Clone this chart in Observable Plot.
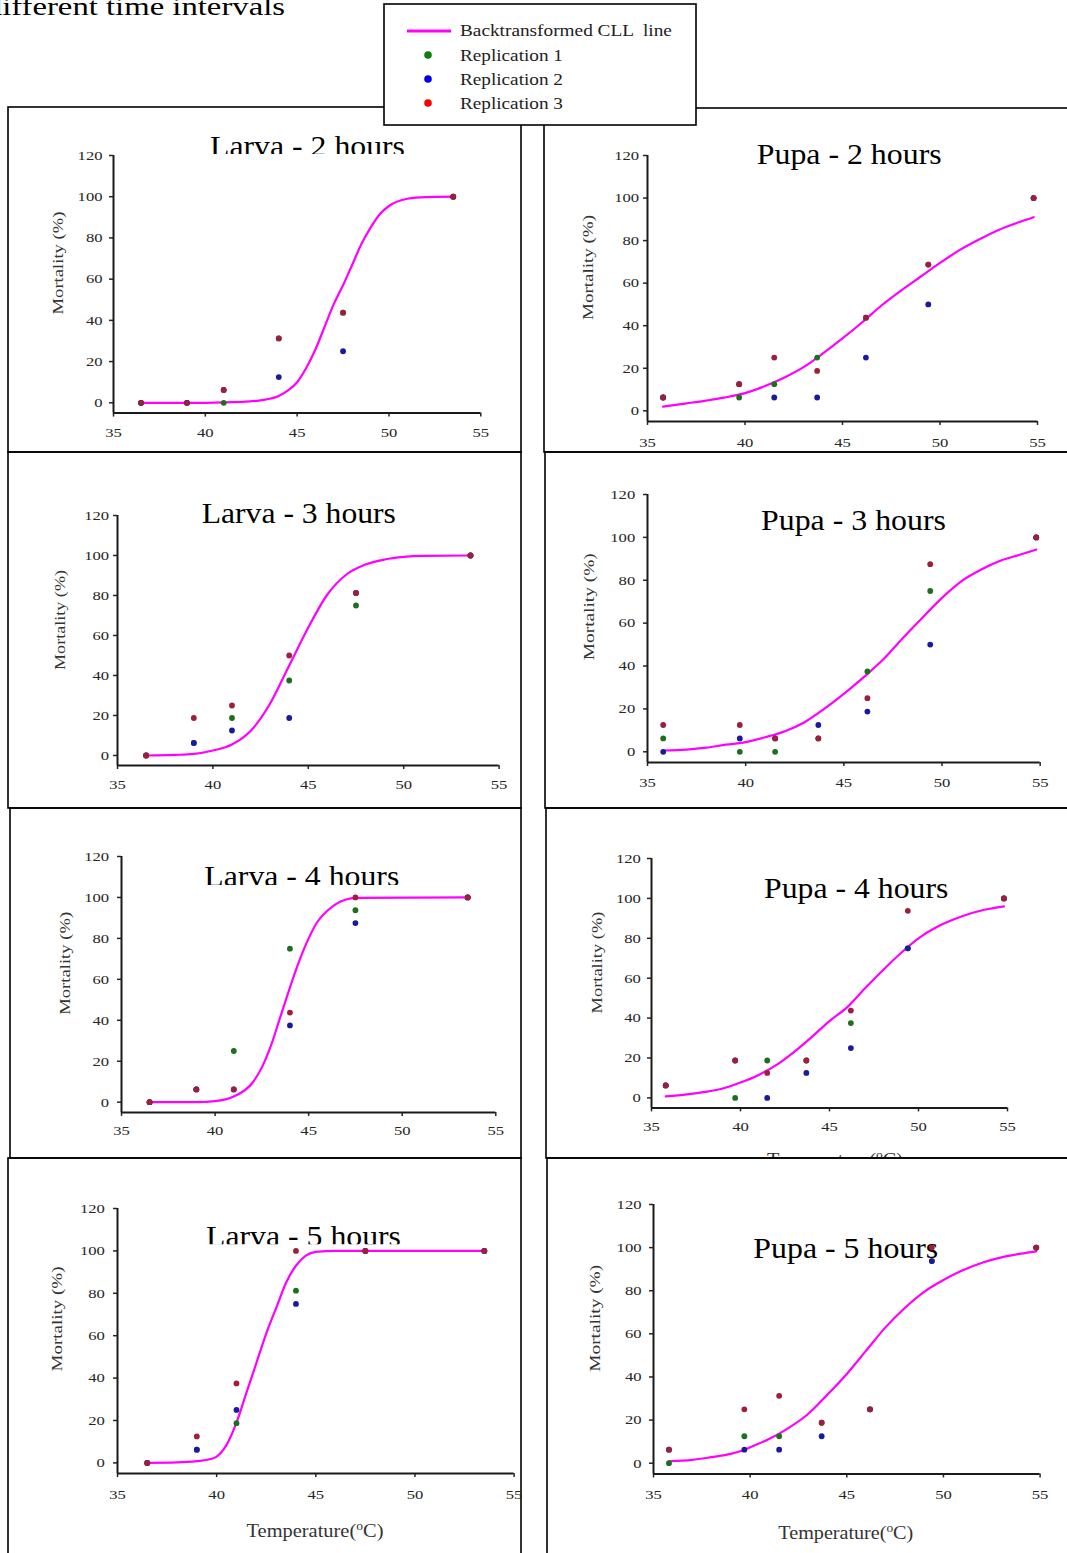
<!DOCTYPE html>
<html>
<head>
<meta charset="utf-8">
<script src="https://cdn.jsdelivr.net/npm/d3@7"></script>
<script src="https://cdn.jsdelivr.net/npm/@observablehq/plot@0.6"></script>
<style>
html,body{margin:0;padding:0;background:#fff;}
body{width:1067px;height:1553px;position:relative;overflow:hidden;}
#overlay{position:absolute;left:0;top:0;}
svg.plotpanel{position:absolute;overflow:visible;max-width:none;}
</style>
</head>
<body>
<script>
// ---------------- DATA ----------------
const larvaTemps = [36.5, 39, 41, 44, 47.5, 53.5];
const pupaTemps = [35.8, 39.7, 41.5, 43.7, 46.2, 49.4, 54.8];
const xTicks = [35, 40, 45, 50, 55];
const yTicks = [0, 20, 40, 60, 80, 100, 120];
const seriesNames = ["Backtransformed CLL  line", "Replication 1", "Replication 2", "Replication 3"];
const panelTitles = ["Larva - 2 hours", "Pupa - 2 hours", "Larva - 3 hours", "Pupa - 3 hours",
                     "Larva - 4 hours", "Pupa - 4 hours", "Larva - 5 hours", "Pupa - 5 hours"];
const yLabel = "Mortality (%)";
const headerText = "different time intervals";

// Larva - 2 hours
const larva2Rep1 = [0, 0, 0, 31.25, 43.75, 100];
const larva2Rep2 = [0, 0, 6.25, 12.5, 25, 100];
const larva2Rep3 = [0, 0, 6.25, 31.25, 43.75, 100];
const larva2CurveTemp = [36.5, 40, 42, 43, 44, 44.5, 45, 45.5, 46, 46.5, 47, 47.5, 48, 48.5, 49, 49.5, 50, 51, 52, 53.5];
const larva2CurveMort = [0, 0, 0.4, 1.2, 3.3, 6, 10, 17, 26, 37, 48, 57, 67, 77, 85, 91.5, 95.5, 99, 99.8, 100];

// Pupa - 2 hours
const pupa2Rep1 = [6.25, 6.25, 12.5, 25, 43.75, 68.75, 100];
const pupa2Rep2 = [6.25, 12.5, 6.25, 6.25, 25, 50, 100];
const pupa2Rep3 = [6.25, 12.5, 25, 18.75, 43.75, 68.75, 100];
const pupa2CurveTemp = [35.8, 37, 38, 39, 40, 41, 42, 43, 44, 45, 46, 47, 48, 49, 50, 51, 52, 53, 54, 54.8];
const pupa2CurveMort = [2, 3.5, 4.8, 6.3, 8.3, 11.5, 15.5, 20.5, 27, 34, 41.5, 49.5, 56.5, 63, 69.5, 75.5, 80.5, 85, 88.5, 91];

// Larva - 3 hours
const larva3Rep1 = [0, 6.25, 18.75, 37.5, 75, 100];
const larva3Rep2 = [0, 6.25, 12.5, 18.75, 81.25, 100];
const larva3Rep3 = [0, 18.75, 25, 50, 81.25, 100];
const larva3CurveTemp = [36.5, 38, 39, 40, 41, 42, 43, 44, 45, 46, 47, 48, 49, 50, 51, 53.5];
const larva3CurveMort = [0, 0.3, 0.8, 2.5, 5.5, 12.5, 26, 45, 64, 80.5, 90.5, 95.5, 98, 99.3, 99.8, 100];

// Pupa - 3 hours
const pupa3Rep1 = [6.25, 0, 0, 6.25, 37.5, 75, 100];
const pupa3Rep2 = [0, 6.25, 6.25, 12.5, 18.75, 50, 100];
const pupa3Rep3 = [12.5, 12.5, 6.25, 6.25, 25, 87.5, 100];
const pupa3CurveTemp = [35.8, 37, 38, 39, 40, 41, 42, 43, 44, 45, 46, 47, 48, 49, 50, 51, 52, 53, 54, 54.8];
const pupa3CurveMort = [0.6, 1, 1.9, 3.3, 4.5, 6.8, 9.6, 13.8, 20, 27, 34.7, 43, 53, 62.5, 71.8, 79.6, 85, 89.2, 92, 94.3];

// Larva - 4 hours
const larva4Rep1 = [0, 6.25, 25, 75, 93.75, 100];
const larva4Rep2 = [0, 6.25, 6.25, 37.5, 87.5, 100];
const larva4Rep3 = [0, 6.25, 6.25, 43.75, 100, 100];
const larva4CurveTemp = [36.5, 39, 40, 41, 42, 42.5, 43, 43.5, 44, 44.5, 45, 45.5, 46, 46.5, 47, 47.5, 53.5];
const larva4CurveMort = [0, 0, 0.5, 2.8, 9.5, 17, 28, 42, 56, 69, 80, 88.5, 93.5, 97, 99, 99.8, 100];

// Pupa - 4 hours
const pupa4Rep1 = [6.25, 0, 18.75, 18.75, 37.5, 75, 100];
const pupa4Rep2 = [6.25, 18.75, 0, 12.5, 25, 75, 100];
const pupa4Rep3 = [6.25, 18.75, 12.5, 18.75, 43.75, 93.75, 100];
const pupa4CurveTemp = [35.8, 37, 38, 39, 40, 41, 42, 43, 44, 45, 46, 47, 48, 49, 50, 51, 52, 53, 54, 54.8];
const pupa4CurveMort = [0.8, 1.8, 3, 4.7, 7.7, 11.4, 16.4, 23, 30.5, 38.5, 45.5, 55, 64, 72.5, 80, 85.5, 89.5, 92.7, 94.8, 96];

// Larva - 5 hours
const larva5Rep1 = [0, 6.25, 18.75, 81.25, 100, 100];
const larva5Rep2 = [0, 6.25, 25, 75, 100, 100];
const larva5Rep3 = [0, 12.5, 37.5, 100, 100, 100];
const larva5CurveTemp = [36.5, 38, 39, 39.7, 40, 40.5, 41, 41.5, 42, 42.5, 43, 43.5, 44, 44.5, 45, 46, 53.5];
const larva5CurveMort = [0, 0.2, 0.8, 1.8, 3, 8.5, 19, 33, 47, 61, 73, 85, 93, 97.8, 99.5, 100, 100];

// Pupa - 5 hours
const pupa5Rep1 = [0, 12.5, 12.5, 18.75, 25, 93.75, 100];
const pupa5Rep2 = [6.25, 6.25, 6.25, 12.5, 25, 93.75, 100];
const pupa5Rep3 = [6.25, 25, 31.25, 18.75, 25, 100, 100];
const pupa5CurveTemp = [35.8, 37, 38, 39, 39.7, 40, 41, 42, 43, 44, 45, 46, 47, 48, 49, 50, 51, 52, 53, 54, 54.8];
const pupa5CurveMort = [0.9, 1.5, 2.8, 4.3, 6.2, 7.4, 11.3, 16.4, 22.8, 31.8, 41.4, 52.2, 63, 72, 79.5, 85, 89.5, 93, 95.5, 97.2, 98.3];

// ---------------- STYLE / LAYOUT ----------------
const SERIF = '"Liberation Serif", "Times New Roman", serif';
const repColors = ["#1d6f1d", "#1a1aa0", "#a01e3c"];
const legendColors = ["#0c800c", "#0000f0", "#ff0000"];
const lineColor = "#ff00ff";

const panels = [
  {title: panelTitles[0], temps: larvaTemps, reps: [larva2Rep1, larva2Rep2, larva2Rep3], ct: larva2CurveTemp, cm: larva2CurveMort},
  {title: panelTitles[1], temps: pupaTemps, reps: [pupa2Rep1, pupa2Rep2, pupa2Rep3], ct: pupa2CurveTemp, cm: pupa2CurveMort},
  {title: panelTitles[2], temps: larvaTemps, reps: [larva3Rep1, larva3Rep2, larva3Rep3], ct: larva3CurveTemp, cm: larva3CurveMort},
  {title: panelTitles[3], temps: pupaTemps, reps: [pupa3Rep1, pupa3Rep2, pupa3Rep3], ct: pupa3CurveTemp, cm: pupa3CurveMort},
  {title: panelTitles[4], temps: larvaTemps, reps: [larva4Rep1, larva4Rep2, larva4Rep3], ct: larva4CurveTemp, cm: larva4CurveMort},
  {title: panelTitles[5], temps: pupaTemps, reps: [pupa4Rep1, pupa4Rep2, pupa4Rep3], ct: pupa4CurveTemp, cm: pupa4CurveMort},
  {title: panelTitles[6], temps: larvaTemps, reps: [larva5Rep1, larva5Rep2, larva5Rep3], ct: larva5CurveTemp, cm: larva5CurveMort},
  {title: panelTitles[7], temps: pupaTemps, reps: [pupa5Rep1, pupa5Rep2, pupa5Rep3], ct: pupa5CurveTemp, cm: pupa5CurveMort}
];

const layout = [
  {x35: 112.7, x55: 480,    y120: 155,    y0: 402.3,  xPad: 10,   yGap: 11,   t: {cx: 307.5, top: 137,    w: 195,   clip: 154},  yl: {cx: 58.5, cy: 263,   w: 103}},
  {x35: 646.7, x55: 1036.7, y120: 155,    y0: 410.3,  xPad: 12,   yGap: 8.4,  t: {cx: 849.2, top: 145,    w: 185},               yl: {cx: 588.5, cy: 267.5, w: 105}},
  {x35: 116.7, x55: 498.3,  y120: 515,    y0: 755,    xPad: 10,   yGap: 8.4,  t: {cx: 298.8, top: 504,    w: 194.3},             yl: {cx: 60.3, cy: 620,   w: 100}},
  {x35: 647.3, x55: 1040,   y120: 494,    y0: 751.3,  xPad: 10.5, yGap: 12.3, t: {cx: 853.5, top: 511,    w: 185},               yl: {cx: 589,  cy: 606.7, w: 107}},
  {x35: 120.7, x55: 495,    y120: 856,    y0: 1101.7, xPad: 9,    yGap: 12.4, t: {cx: 301.8, top: 866.7,  w: 195,   clip: 885},  yl: {cx: 65.3, cy: 963.3, w: 103}},
  {x35: 650.7, x55: 1006.7, y120: 858.3,  y0: 1097.7, xPad: 9.3,  yGap: 10.7, t: {cx: 856.2, top: 879,    w: 184.3},             yl: {cx: 597.5, cy: 962.5, w: 102}},
  {x35: 116.7, x55: 513.3,  y120: 1208.3, y0: 1462.7, xPad: 11.5, yGap: 12.7, t: {cx: 303.5, top: 1226.7, w: 195,   clip: 1244.3}, yl: {cx: 57,   cy: 1319,  w: 105}},
  {x35: 652.7, x55: 1039.3, y120: 1204,   y0: 1462.7, xPad: 11.3, yGap: 12,   t: {cx: 845.8, top: 1239.6, w: 185},               yl: {cx: 595.3, cy: 1318.3, w: 107}}
];

const borders = [
  [8, 107, 513, 345], [544, 108, 540, 344],
  [8, 452, 513, 356], [545, 452, 540, 356],
  [10, 808, 511, 350], [546, 808, 540, 350],
  [8, 1158, 513, 400], [547, 1158, 540, 400]
];

// ---------------- OVERLAY (frames, titles, labels, legend) ----------------
const overlay = d3.select(document.body).append("svg")
  .attr("id", "overlay").attr("width", 1067).attr("height", 1553)
  .attr("viewBox", "0 0 1067 1553")
  .style("font-family", SERIF);
const defs = overlay.append("defs");

function addText(parent, str, o) {
  const t = parent.append("text")
    .attr("font-size", o.size)
    .attr("text-anchor", o.anchor || "middle")
    .attr("fill", o.fill || "#000")
    .style("white-space", "pre")
    .text(str);
  if (o.baseline) t.attr("dominant-baseline", o.baseline);
  let s = o.scale || 1;
  if (o.target) { const L = t.node().getComputedTextLength(); if (L > 0) s = o.target / L; }
  t.attr("transform", `translate(${o.x},${o.y})` + (o.rotate ? ` rotate(${o.rotate})` : "") + ` scale(${s},1)`);
  return t;
}

function tempLabel(parent, cx, capTop, target) {
  const size = 18;
  const base = capTop + 0.662 * size;
  const t = parent.append("text").attr("font-size", size).attr("text-anchor", "middle").attr("fill", "#333");
  t.append("tspan").text("Temperature(");
  t.append("tspan").attr("font-size", 12).attr("dy", -7).text("o");
  t.append("tspan").attr("dy", 7).text("C)");
  const L = t.node().getComputedTextLength();
  const s = L > 0 ? target / L : 1;
  t.attr("transform", `translate(${cx},${base}) scale(${s},1)`);
  return t;
}

// header text (cut at the page's left and top edges, as in the source)
{
  const tmp = addText(overlay, headerText.slice(1), {x: 0, y: 15, size: 25, anchor: "start"});
  const L = tmp.node().getComputedTextLength();
  tmp.remove();
  addText(overlay, headerText, {x: 285, y: 15, size: 25, anchor: "end", scale: 283 / L});
}

// panel frames
overlay.append("g").selectAll("rect").data(borders).join("rect")
  .attr("x", d => d[0]).attr("y", d => d[1]).attr("width", d => d[2]).attr("height", d => d[3])
  .attr("fill", "none").attr("stroke", "#000").attr("stroke-width", 1.6);

// titles & y labels
const TITLE_SIZE = 28.5;
layout.forEach((L, i) => {
  let g = overlay.append("g");
  if (L.t.clip) {
    defs.append("clipPath").attr("id", "tclip" + i).append("rect")
      .attr("x", 0).attr("y", 0).attr("width", 1067).attr("height", L.t.clip);
    g.attr("clip-path", `url(#tclip${i})`);
  }
  addText(g, panels[i].title, {x: L.t.cx, y: L.t.top + 0.662 * TITLE_SIZE, size: TITLE_SIZE, target: L.t.w});
  addText(overlay, yLabel, {x: L.yl.cx, y: L.yl.cy, size: 15, rotate: -90, baseline: "central", target: L.yl.w, fill: "#333"});
});

// x-axis titles (bottom row) and the cut-off one of Pupa - 4 hours
tempLabel(overlay, 315, 1525, 137);
tempLabel(overlay, 845.8, 1526.7, 135);
defs.append("clipPath").attr("id", "p4clip").append("rect").attr("x", 0).attr("y", 0).attr("width", 1067).attr("height", 1157);
tempLabel(overlay.append("g").attr("clip-path", "url(#p4clip)"), 835, 1154.3, 136);

// legend
{
  const lg = overlay.append("g");
  lg.append("rect").attr("x", 384).attr("y", 4).attr("width", 312).attr("height", 121)
    .attr("fill", "#fff").attr("stroke", "#000").attr("stroke-width", 1.6);
  lg.append("line").attr("x1", 407).attr("x2", 451).attr("y1", 31).attr("y2", 31)
    .attr("stroke", lineColor).attr("stroke-width", 3);
  addText(lg, seriesNames[0], {x: 460, y: 36, size: 17, anchor: "start", target: 212, fill: "#222"});
  [55, 79, 103].forEach((cy, k) => {
    lg.append("circle").attr("cx", 428).attr("cy", cy).attr("r", 3.8).attr("fill", legendColors[k]);
    addText(lg, seriesNames[k + 1], {x: 460, y: cy + 6, size: 17, anchor: "start", target: 103, fill: "#222"});
  });
}

// ---------------- PLOTS ----------------
const mL = 48, mR = 20, mT = 10, mB = 34;
const Y_MIN = -5, Y_MAX = 120;
const TICK_SCALE = 1.23;

panels.forEach((p, i) => {
  const L = layout[i];
  const yBot = L.y120 + (L.y0 - L.y120) * (Y_MAX - Y_MIN) / Y_MAX;
  const w = L.x55 - L.x35, h = yBot - L.y120;
  const curve = p.ct.map((t, j) => ({temp: t, mort: p.cm[j]}));
  const pts = p.reps.map(r => p.temps.map((t, j) => ({temp: t, mort: r[j]})));
  const svg = Plot.plot({
    width: w + mL + mR,
    height: h + mT + mB,
    marginLeft: mL, marginRight: mR, marginTop: mT, marginBottom: mB,
    x: {domain: [35, 55], label: null},
    y: {domain: [Y_MIN, Y_MAX], label: null},
    style: {background: "transparent", fontFamily: SERIF, fontSize: "13.5px", color: "#262626", overflow: "visible"},
    marks: [
      Plot.axisX({ticks: xTicks, tickSize: 4, tickPadding: L.xPad, tickFormat: d => String(d), label: null, strokeWidth: 1.5}),
      Plot.axisY({ticks: yTicks, tickSize: 4, tickPadding: L.yGap - 4, tickFormat: d => String(d), label: null, strokeWidth: 1.5}),
      Plot.ruleX([35], {stroke: "#1a1a1a", strokeWidth: 2}),
      Plot.ruleY([Y_MIN], {stroke: "#1a1a1a", strokeWidth: 2}),
      Plot.line(curve, {x: "temp", y: "mort", stroke: lineColor, strokeWidth: 2.2, curve: "monotone-x"}),
      Plot.dot(pts[0], {x: "temp", y: "mort", fill: repColors[0], r: 2.9}),
      Plot.dot(pts[1], {x: "temp", y: "mort", fill: repColors[1], r: 2.9}),
      Plot.dot(pts[2], {x: "temp", y: "mort", fill: repColors[2], r: 2.9})
    ]
  });
  svg.classList.add("plotpanel");
  svg.style.left = (L.x35 - mL) + "px";
  svg.style.top = (L.y120 - mT) + "px";
  document.body.appendChild(svg);
  svg.querySelectorAll('g[aria-label="x-axis tick label"] text, g[aria-label="y-axis tick label"] text').forEach(t => {
    const tr = t.getAttribute("transform") || "";
    t.setAttribute("transform", tr + ` scale(${TICK_SCALE},1)`);
  });
});
</script>
</body>
</html>
